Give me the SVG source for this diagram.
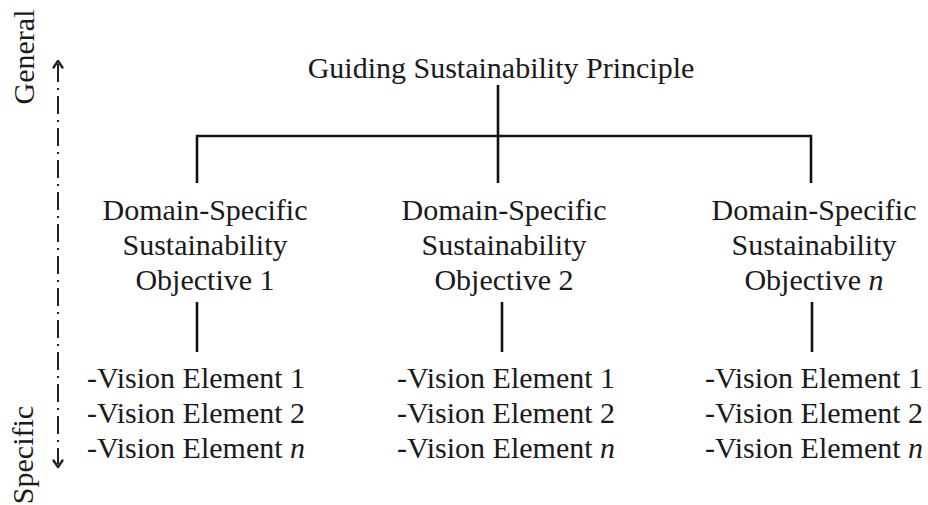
<svg xmlns="http://www.w3.org/2000/svg" width="928" height="505" viewBox="0 0 928 505">
<style>
  text { font-family: "Liberation Serif", "Times New Roman", serif; font-size: 30px; fill: #1a1a1a; }
  .c { text-anchor: middle; }
  .ln { stroke: #111; stroke-width: 2.6; fill: none; }
  .axis { stroke: #222; stroke-width: 2; fill: none; stroke-dasharray: 18 6 2 6; }
  .ah { stroke: #222; stroke-width: 2.4; fill: none; stroke-linecap: round; stroke-linejoin: round; }
</style>
<rect width="928" height="505" fill="#ffffff"/>

<g id="axis">
  <line class="axis" x1="58" y1="64" x2="58" y2="464"/>
  <polyline class="ah" points="53.5,67.5 58,61 62.5,67.5"/>
  <polyline class="ah" points="53.5,460.5 58,467 62.5,460.5"/>
  <text transform="translate(34,57) rotate(-90)" class="c">General</text>
  <text transform="translate(33,455) rotate(-90)" class="c">Specific</text>
</g>

<g id="connectors">
  <line class="ln" x1="498" y1="85" x2="498" y2="183"/>
  <polyline class="ln" points="197,183 197,136 811,136 811,183"/>
  <line class="ln" x1="197" y1="302" x2="197" y2="352"/>
  <line class="ln" x1="502" y1="302" x2="502" y2="352"/>
  <line class="ln" x1="812" y1="302" x2="812" y2="352"/>
</g>

<g id="principle">
  <text class="c" x="501" y="78">Guiding Sustainability Principle</text>
</g>

<g id="objective1">
  <text class="c" x="205" y="220">Domain-Specific</text>
  <text class="c" x="205" y="255">Sustainability</text>
  <text class="c" x="205" y="290">Objective 1</text>
</g>
<g id="objective2">
  <text class="c" x="504" y="220">Domain-Specific</text>
  <text class="c" x="504" y="255">Sustainability</text>
  <text class="c" x="504" y="290">Objective 2</text>
</g>
<g id="objectiveN">
  <text class="c" x="814" y="220">Domain-Specific</text>
  <text class="c" x="814" y="255">Sustainability</text>
  <text class="c" x="814" y="290">Objective <tspan font-style="italic">n</tspan></text>
</g>

<g id="vision1">
  <text class="c" x="196" y="388">-Vision Element 1</text>
  <text class="c" x="196" y="423">-Vision Element 2</text>
  <text class="c" x="196" y="458">-Vision Element <tspan font-style="italic">n</tspan></text>
</g>
<g id="vision2">
  <text class="c" x="506" y="388">-Vision Element 1</text>
  <text class="c" x="506" y="423">-Vision Element 2</text>
  <text class="c" x="506" y="458">-Vision Element <tspan font-style="italic">n</tspan></text>
</g>
<g id="visionN">
  <text class="c" x="814" y="388">-Vision Element 1</text>
  <text class="c" x="814" y="423">-Vision Element 2</text>
  <text class="c" x="814" y="458">-Vision Element <tspan font-style="italic">n</tspan></text>
</g>
</svg>
